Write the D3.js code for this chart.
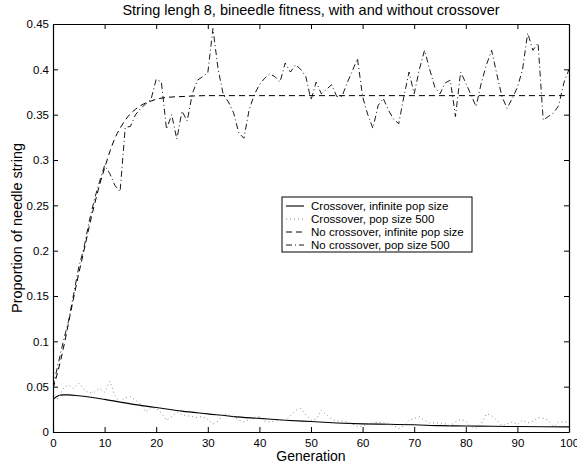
<!DOCTYPE html>
<html>
<head>
<meta charset="utf-8">
<script src="https://cdn.jsdelivr.net/npm/d3@7"></script>
<style>
  body { margin: 0; background: #fff; }
  svg { font-family: "Liberation Sans", Arial, sans-serif; }
</style>
</head>
<body>
<div id="container"></div>
<script>
const container = document.querySelector("#container")

// tick values
const xTicks = [0, 10, 20, 30, 40, 50, 60, 70, 80, 90, 100]
const yTicks = [0, 0.05, 0.1, 0.15, 0.2, 0.25, 0.3, 0.35, 0.4, 0.45]

// Crossover, infinite pop size (smooth curve, read at selected generations)
const crossInfGen = [0, 1, 2, 3, 5, 10, 15, 20, 25, 30, 35, 40, 45, 50, 55, 60, 65, 70, 75, 80, 85, 90, 95, 100]
const crossInfVal = [0.036, 0.040, 0.041, 0.041, 0.040, 0.036, 0.031, 0.027, 0.023, 0.020, 0.017, 0.015, 0.013, 0.0115, 0.010, 0.009, 0.0085, 0.008, 0.007, 0.0067, 0.0063, 0.006, 0.0058, 0.0057]

// Crossover, pop size 500 (one value per generation 0..100)
const cross500Val = [
  0.037, 0.037, 0.048, 0.052, 0.048, 0.054, 0.047, 0.043, 0.044, 0.048,
  0.044, 0.056, 0.040, 0.033, 0.038, 0.039, 0.035, 0.031, 0.022, 0.027,
  0.026, 0.021, 0.013, 0.017, 0.022, 0.019, 0.018, 0.017, 0.016, 0.017,
  0.014, 0.009, 0.012, 0.020, 0.019, 0.017, 0.013, 0.011, 0.014, 0.016,
  0.017, 0.012, 0.011, 0.012, 0.013, 0.013, 0.018, 0.024, 0.026, 0.019,
  0.013, 0.014, 0.024, 0.019, 0.014, 0.012, 0.012, 0.011, 0.009, 0.006,
  0.006, 0.009, 0.010, 0.011, 0.010, 0.009, 0.007, 0.004, 0.007, 0.013,
  0.015, 0.017, 0.013, 0.010, 0.010, 0.010, 0.009, 0.007, 0.011, 0.014,
  0.012, 0.006, 0.004, 0.009, 0.020, 0.018, 0.013, 0.007, 0.009, 0.011,
  0.008, 0.013, 0.010, 0.012, 0.016, 0.015, 0.013, 0.006, 0.011, 0.011,
  0.011
]

// No crossover, infinite pop size (smooth curve)
const noCrossInfGen = [0, 1, 2, 3, 4, 5, 6, 7, 8, 9, 10, 11, 12, 13, 14, 15, 16, 17, 18, 19, 20, 22, 25, 30, 40, 50, 60, 70, 80, 90, 100]
const noCrossInfVal = [0.048, 0.068, 0.092, 0.12, 0.148, 0.175, 0.2, 0.226, 0.25, 0.272, 0.291, 0.309, 0.324, 0.335, 0.344, 0.351, 0.356, 0.36, 0.363, 0.365, 0.367, 0.369, 0.370, 0.371, 0.371, 0.371, 0.371, 0.371, 0.371, 0.371, 0.371]

// No crossover, pop size 500 (one value per generation 0..100)
const noCross500Val = [
  0.050, 0.075, 0.100, 0.122, 0.152, 0.182, 0.203, 0.232, 0.256, 0.276,
  0.294, 0.285, 0.272, 0.265, 0.336, 0.337, 0.350, 0.357, 0.362, 0.367,
  0.389, 0.386, 0.334, 0.350, 0.323, 0.354, 0.343, 0.373, 0.388, 0.392,
  0.396, 0.445, 0.400, 0.372, 0.364, 0.352, 0.330, 0.324, 0.355, 0.372,
  0.383, 0.390, 0.395, 0.392, 0.386, 0.407, 0.397, 0.405, 0.400, 0.392,
  0.366, 0.386, 0.373, 0.378, 0.383, 0.370, 0.370, 0.385, 0.398, 0.412,
  0.370, 0.350, 0.335, 0.360, 0.368, 0.355, 0.345, 0.340, 0.370, 0.397,
  0.373, 0.400, 0.421, 0.400, 0.380, 0.373, 0.385, 0.388, 0.348, 0.397,
  0.385, 0.372, 0.359, 0.385, 0.405, 0.421, 0.395, 0.370, 0.357, 0.368,
  0.380, 0.400, 0.440, 0.421, 0.429, 0.344, 0.348, 0.352, 0.360, 0.385,
  0.400
]

const legendLabels = ["Crossover, infinite pop size", "Crossover, pop size 500", "No crossover, infinite pop size", "No crossover, pop size 500"]

const width = 577
const height = 466
const margin = {top: 24, right: 8, bottom: 34, left: 53}

const x = d3.scaleLinear().domain([0, 100]).range([margin.left, width - margin.right])
const y = d3.scaleLinear().domain([0, 0.45]).range([height - margin.bottom, margin.top])

const svg = d3.create("svg")
  .attr("width", width)
  .attr("height", height)

const styles = [
  {stroke: "#000", dash: null, width: 1.1},
  {stroke: "#888", dash: "1,3", width: 1},
  {stroke: "#000", dash: "6,4", width: 1},
  {stroke: "#000", dash: "6,3,1,3", width: 0.9}
]

const series = [
  crossInfGen.map((g, i) => [g, crossInfVal[i]]),
  cross500Val.map((v, i) => [i, v]),
  noCrossInfGen.map((g, i) => [g, noCrossInfVal[i]]),
  noCross500Val.map((v, i) => [i, v])
]

const smoothLine = d3.line().x(d => x(d[0])).y(d => y(d[1])).curve(d3.curveMonotoneX)
const rawLine = d3.line().x(d => x(d[0])).y(d => y(d[1]))

svg.append("defs").append("clipPath").attr("id", "plot-clip")
  .append("rect")
  .attr("x", margin.left).attr("y", margin.top)
  .attr("width", x(100) - x(0)).attr("height", y(0) - y(0.45))

const lines = svg.append("g").attr("clip-path", "url(#plot-clip)")
series.forEach((s, i) => {
  lines.append("path")
    .datum(s)
    .attr("fill", "none")
    .attr("stroke", styles[i].stroke)
    .attr("stroke-width", styles[i].width)
    .attr("stroke-dasharray", styles[i].dash)
    .attr("d", (i === 0 || i === 2) ? smoothLine : rawLine)
})

// axes, ticks pointing inward on all four sides
const fontSize = 11.5
const bottomAxis = svg.append("g")
  .attr("transform", `translate(0, ${y(0)})`)
  .call(d3.axisBottom(x).tickValues(xTicks).tickSizeInner(-5).tickSizeOuter(0).tickPadding(5))
const topAxis = svg.append("g")
  .attr("transform", `translate(0, ${y(0.45)})`)
  .call(d3.axisTop(x).tickValues(xTicks).tickSizeInner(-5).tickSizeOuter(0).tickFormat(""))
const leftAxis = svg.append("g")
  .attr("transform", `translate(${x(0)}, 0)`)
  .call(d3.axisLeft(y).tickValues(yTicks).tickSizeInner(-5).tickSizeOuter(0).tickPadding(4).tickFormat(d3.format("")))
const rightAxis = svg.append("g")
  .attr("transform", `translate(${x(100)}, 0)`)
  .call(d3.axisRight(y).tickValues(yTicks).tickSizeInner(-5).tickSizeOuter(0).tickFormat(""))

;[bottomAxis, topAxis, leftAxis, rightAxis].forEach(a => {
  a.select(".domain").attr("stroke", "#000").attr("stroke-width", 1.2)
  a.selectAll(".tick line").attr("stroke", "#000")
  a.selectAll("text").attr("font-size", fontSize).attr("fill", "#000")
    .attr("font-family", "Liberation Sans, Arial, sans-serif")
})
bottomAxis.selectAll(".tick line").attr("y2", 0).attr("y1", -5)
bottomAxis.selectAll("text").attr("dy", "0.85em")

// title and labels
svg.append("text")
  .attr("x", (x(0) + x(100)) / 2)
  .attr("y", 15)
  .attr("text-anchor", "middle")
  .attr("font-size", 14.5)
  .text("String lengh 8, bineedle fitness, with and without crossover")

svg.append("text")
  .attr("x", (x(0) + x(100)) / 2)
  .attr("y", 461)
  .attr("text-anchor", "middle")
  .attr("font-size", 14)
  .text("Generation")

svg.append("text")
  .attr("transform", `translate(22, ${(y(0) + y(0.45)) / 2}) rotate(-90)`)
  .attr("text-anchor", "middle")
  .attr("font-size", 14.5)
  .text("Proportion of needle string")

// legend
const legend = svg.append("g").attr("id", "legend").attr("transform", "translate(282, 197)")
legend.append("rect")
  .attr("width", 190).attr("height", 55)
  .attr("fill", "#fff").attr("stroke", "#000").attr("stroke-width", 1)

legendLabels.forEach((label, i) => {
  const row = legend.append("g").attr("transform", `translate(0, ${9 + i * 13})`)
  row.append("line")
    .attr("x1", 4).attr("x2", 22).attr("y1", 0).attr("y2", 0)
    .attr("stroke", styles[i].stroke)
    .attr("stroke-width", styles[i].width)
    .attr("stroke-dasharray", styles[i].dash)
  row.append("text")
    .attr("x", 29).attr("y", 4)
    .attr("font-size", 11.5)
    .text(label)
})

container.appendChild(svg.node())
</script>
</body>
</html>
